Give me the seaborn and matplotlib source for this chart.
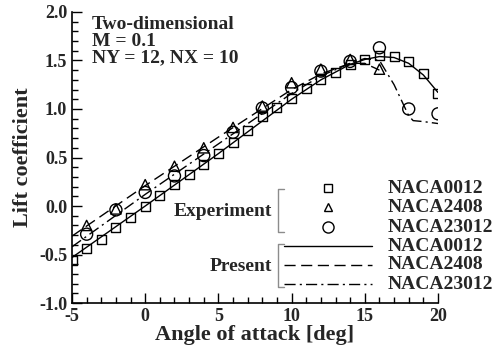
import numpy as np
import pandas as pd
import seaborn as sns
import matplotlib.pyplot as plt
from matplotlib.lines import Line2D
from matplotlib.ticker import MultipleLocator

# experiment
aoa_0012 = list(range(-5, 21))
cl_0012 = [-0.56, -0.44, -0.34, -0.22, -0.12, 0.00, 0.11, 0.22, 0.33, 0.43,
           0.54, 0.65, 0.78, 0.92, 1.02, 1.11, 1.21, 1.30, 1.38, 1.46,
           1.51, 1.55, 1.54, 1.49, 1.37, 1.16]
aoa_2408 = [-4, -2, 0, 2, 4, 6, 8, 10, 12, 14, 16]
cl_2408 = [-0.20, -0.03, 0.22, 0.41, 0.60, 0.81, 1.03, 1.27, 1.41, 1.51, 1.41]
aoa_23012 = [-4, -2, 0, 2, 4, 6, 8, 10, 12, 14, 16, 18, 20]
cl_23012 = [-0.29, -0.04, 0.14, 0.31, 0.52, 0.76, 1.01, 1.22, 1.39, 1.49, 1.63, 1.00, 0.95]

# present computation
p_aoa_0012 = [-5, 0, 5, 10, 12, 14, 15, 16, 17, 18, 19, 20]
p_cl_0012 = [-0.53, 0.00, 0.54, 1.10, 1.30, 1.46, 1.51, 1.54, 1.53, 1.47, 1.35, 1.17]
p_aoa_2408 = [-5, 0, 5, 10, 12, 14, 15, 16]
p_cl_2408 = [-0.31, 0.21, 0.71, 1.20, 1.36, 1.47, 1.47, 1.40]
p_aoa_23012 = [-5, 0, 5, 10, 12, 14, 15, 16, 17, 18, 18.3, 19, 20]
p_cl_23012 = [-0.42, 0.12, 0.64, 1.16, 1.34, 1.47, 1.52, 1.50, 1.25, 0.93, 0.88, 0.87, 0.85]

sns.set_style("ticks")
plt.rcParams['font.family'] = ['Liberation Serif', 'DejaVu Serif']
plt.rcParams['font.weight'] = 'bold'
plt.rcParams['axes.unicode_minus'] = False

fig = plt.figure(figsize=(5, 3.5), dpi=100)
ax = fig.add_axes([0.144, 0.134, 0.732, 0.832])

lw = 1.0
sns.lineplot(x=p_aoa_0012, y=p_cl_0012, color='k', lw=lw, ax=ax, linestyle='-')
sns.lineplot(x=p_aoa_2408, y=p_cl_2408, color='k', lw=lw, ax=ax, dashes=False,
             linestyle=(0, (8, 4)))
sns.lineplot(x=p_aoa_23012, y=p_cl_23012, color='k', lw=lw, ax=ax, dashes=False,
             linestyle=(0, (8, 3, 1.5, 3)))

sns.scatterplot(x=aoa_0012, y=cl_0012, marker='s', s=42, facecolor='none',
                edgecolor='k', linewidth=1.0, ax=ax, zorder=3)
sns.scatterplot(x=aoa_2408, y=cl_2408, marker='^', s=55, facecolor='none',
                edgecolor='k', linewidth=1.0, ax=ax, zorder=3)
sns.scatterplot(x=aoa_23012, y=cl_23012, marker='o', s=75, facecolor='none',
                edgecolor='k', linewidth=1.0, ax=ax, zorder=3)

ax.set_xlim(-5, 20)
ax.set_ylim(-1.0, 2.0)
ax.xaxis.set_major_locator(MultipleLocator(5))
ax.xaxis.set_minor_locator(MultipleLocator(1))
ax.yaxis.set_major_locator(MultipleLocator(0.5))
ax.yaxis.set_minor_locator(MultipleLocator(0.1))
ax.set_yticks(np.arange(-1.0, 2.01, 0.5))
ax.set_yticklabels([f"{v:.1f}" for v in np.arange(-1.0, 2.01, 0.5)])
ax.tick_params(which='both', direction='in', labelsize=13, width=1, color='k')
ax.tick_params(which='major', length=7)
ax.tick_params(which='minor', length=4)
for lab in ax.get_xticklabels() + ax.get_yticklabels():
    lab.set_fontweight('bold')
sns.despine(ax=ax)
for sp in ['left', 'bottom']:
    ax.spines[sp].set_color('k')
    ax.spines[sp].set_linewidth(1.2)

ax.set_xlabel('Angle of attack [deg]', fontsize=16, fontweight='bold', labelpad=0)
ax.set_ylabel('Lift coefficient', fontsize=16, fontweight='bold', labelpad=4)

ax.text(0.055, 0.985, 'Two-dimensional\nM = 0.1\nNY = 12, NX = 10', transform=ax.transAxes,
        fontsize=14, fontweight='bold', va='top', ha='left', linespacing=0.95)

# custom legend
tr = ax.transAxes
gray = '0.55'
ax.add_line(Line2D([0.579, 0.563, 0.563, 0.579], [0.392, 0.392, 0.244, 0.244],
                   transform=tr, color=gray, lw=1, clip_on=False))
ax.add_line(Line2D([0.579, 0.563, 0.563, 0.579], [0.203, 0.203, 0.055, 0.055],
                   transform=tr, color=gray, lw=1, clip_on=False))
ax.text(0.546, 0.313, 'Experiment', transform=tr, ha='right', va='center',
        fontsize=14, fontweight='bold')
ax.text(0.546, 0.127, 'Present', transform=tr, ha='right', va='center',
        fontsize=14, fontweight='bold')
leg_y = [0.395, 0.330, 0.261, 0.196, 0.131, 0.065]
for m, yy in zip(['s', '^', 'o'], leg_y[:3]):
    ax.add_line(Line2D([0.699], [yy], transform=tr, marker=m, ms=6 if m != 'o' else 8,
                       mfc='none', mec='k', mew=1, ls='none', clip_on=False))
for ls, yy in zip(['-', (0, (8, 4)), (0, (8, 3, 1.5, 3))], leg_y[3:]):
    ax.add_line(Line2D([0.579, 0.820], [yy, yy], transform=tr, color='k', lw=lw,
                       ls=ls, clip_on=False))
for name, yy in zip(['NACA0012', 'NACA2408', 'NACA23012'] * 2, leg_y):
    ax.text(0.863, yy, name, transform=tr, ha='left', va='center',
            fontsize=14, fontweight='bold')

fig.savefig('out.png', dpi=100)
